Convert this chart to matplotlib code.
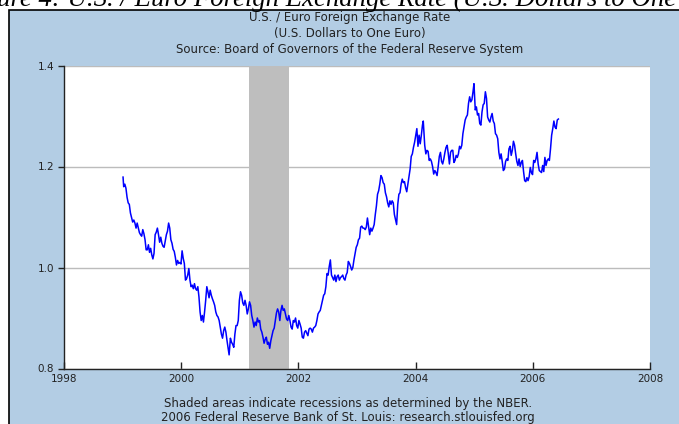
import pandas as pd
import matplotlib
matplotlib.use("Agg")
import matplotlib.pyplot as plt
from matplotlib.patches import Rectangle

# weekly readings of the daily series (U.S. dollars per euro)
dates = [
    # 1999
    "1999-01-04", "1999-01-08", "1999-01-15", "1999-01-22", "1999-01-29", "1999-02-05", "1999-02-12",
    "1999-02-19", "1999-02-26", "1999-03-05", "1999-03-12", "1999-03-19", "1999-03-26", "1999-04-02",
    "1999-04-09", "1999-04-16", "1999-04-23", "1999-04-30", "1999-05-07", "1999-05-14", "1999-05-21",
    "1999-05-28", "1999-06-04", "1999-06-11", "1999-06-18", "1999-06-25", "1999-07-02", "1999-07-09",
    "1999-07-16", "1999-07-23", "1999-07-30", "1999-08-06", "1999-08-13", "1999-08-20", "1999-08-27",
    "1999-09-03", "1999-09-10", "1999-09-17", "1999-09-24", "1999-10-01", "1999-10-08", "1999-10-15",
    "1999-10-22", "1999-10-29", "1999-11-05", "1999-11-12", "1999-11-19", "1999-11-26", "1999-12-03",
    "1999-12-10", "1999-12-17", "1999-12-24", "1999-12-31",
    # 2000
    "2000-01-07", "2000-01-14", "2000-01-21", "2000-01-28", "2000-02-04", "2000-02-11", "2000-02-18",
    "2000-02-25", "2000-03-03", "2000-03-10", "2000-03-17", "2000-03-24", "2000-03-31", "2000-04-07",
    "2000-04-14", "2000-04-21", "2000-04-28", "2000-05-05", "2000-05-12", "2000-05-19", "2000-05-26",
    "2000-06-02", "2000-06-09", "2000-06-16", "2000-06-23", "2000-06-30", "2000-07-07", "2000-07-14",
    "2000-07-21", "2000-07-28", "2000-08-04", "2000-08-11", "2000-08-18", "2000-08-25", "2000-09-01",
    "2000-09-08", "2000-09-15", "2000-09-22", "2000-09-29", "2000-10-06", "2000-10-13", "2000-10-20",
    "2000-10-26", "2000-11-03", "2000-11-10", "2000-11-17", "2000-11-24", "2000-12-01", "2000-12-08",
    "2000-12-15", "2000-12-22", "2000-12-29",
    # 2001
    "2001-01-05", "2001-01-12", "2001-01-19", "2001-01-26", "2001-02-02", "2001-02-09", "2001-02-16",
    "2001-02-23", "2001-03-02", "2001-03-09", "2001-03-16", "2001-03-23", "2001-03-30", "2001-04-06",
    "2001-04-13", "2001-04-20", "2001-04-27", "2001-05-04", "2001-05-11", "2001-05-18", "2001-05-25",
    "2001-06-01", "2001-06-08", "2001-06-15", "2001-06-22", "2001-06-29", "2001-07-06", "2001-07-13",
    "2001-07-20", "2001-07-27", "2001-08-03", "2001-08-10", "2001-08-17", "2001-08-24", "2001-08-31",
    "2001-09-07", "2001-09-14", "2001-09-21", "2001-09-28", "2001-10-05", "2001-10-12", "2001-10-19",
    "2001-10-26", "2001-11-02", "2001-11-09", "2001-11-16", "2001-11-23", "2001-11-30", "2001-12-07",
    "2001-12-14", "2001-12-21", "2001-12-28",
    # 2002
    "2002-01-04", "2002-01-11", "2002-01-18", "2002-01-25", "2002-02-01", "2002-02-08", "2002-02-15",
    "2002-02-22", "2002-03-01", "2002-03-08", "2002-03-15", "2002-03-22", "2002-03-29", "2002-04-05",
    "2002-04-12", "2002-04-19", "2002-04-26", "2002-05-03", "2002-05-10", "2002-05-17", "2002-05-24",
    "2002-05-31", "2002-06-07", "2002-06-14", "2002-06-21", "2002-06-28", "2002-07-05", "2002-07-12",
    "2002-07-19", "2002-07-26", "2002-08-02", "2002-08-09", "2002-08-16", "2002-08-23", "2002-08-30",
    "2002-09-06", "2002-09-13", "2002-09-20", "2002-09-27", "2002-10-04", "2002-10-11", "2002-10-18",
    "2002-10-25", "2002-11-01", "2002-11-08", "2002-11-15", "2002-11-22", "2002-11-29", "2002-12-06",
    "2002-12-13", "2002-12-20", "2002-12-27",
    # 2003
    "2003-01-03", "2003-01-10", "2003-01-17", "2003-01-24", "2003-01-31", "2003-02-07", "2003-02-14",
    "2003-02-21", "2003-02-28", "2003-03-07", "2003-03-14", "2003-03-21", "2003-03-28", "2003-04-04",
    "2003-04-11", "2003-04-18", "2003-04-25", "2003-05-02", "2003-05-09", "2003-05-16", "2003-05-23",
    "2003-05-30", "2003-06-06", "2003-06-13", "2003-06-20", "2003-06-27", "2003-07-04", "2003-07-11",
    "2003-07-18", "2003-07-25", "2003-08-01", "2003-08-08", "2003-08-15", "2003-08-22", "2003-08-29",
    "2003-09-05", "2003-09-12", "2003-09-19", "2003-09-26", "2003-10-03", "2003-10-10", "2003-10-17",
    "2003-10-24", "2003-10-31", "2003-11-07", "2003-11-14", "2003-11-21", "2003-11-28", "2003-12-05",
    "2003-12-12", "2003-12-19", "2003-12-26",
    # 2004
    "2004-01-02", "2004-01-09", "2004-01-16", "2004-01-23", "2004-01-30", "2004-02-06", "2004-02-13",
    "2004-02-18", "2004-02-27", "2004-03-05", "2004-03-12", "2004-03-19", "2004-03-26", "2004-04-02",
    "2004-04-09", "2004-04-16", "2004-04-23", "2004-04-30", "2004-05-07", "2004-05-14", "2004-05-21",
    "2004-05-28", "2004-06-04", "2004-06-11", "2004-06-18", "2004-06-25", "2004-07-02", "2004-07-09",
    "2004-07-16", "2004-07-23", "2004-07-30", "2004-08-06", "2004-08-13", "2004-08-20", "2004-08-27",
    "2004-09-03", "2004-09-10", "2004-09-17", "2004-09-24", "2004-10-01", "2004-10-08", "2004-10-15",
    "2004-10-22", "2004-10-29", "2004-11-05", "2004-11-12", "2004-11-19", "2004-11-26", "2004-12-03",
    "2004-12-10", "2004-12-17", "2004-12-24", "2004-12-30",
    # 2005
    "2005-01-07", "2005-01-14", "2005-01-21", "2005-01-28", "2005-02-04", "2005-02-11", "2005-02-18",
    "2005-02-25", "2005-03-04", "2005-03-11", "2005-03-18", "2005-03-25", "2005-04-01", "2005-04-08",
    "2005-04-15", "2005-04-22", "2005-04-29", "2005-05-06", "2005-05-13", "2005-05-20", "2005-05-27",
    "2005-06-03", "2005-06-10", "2005-06-17", "2005-06-24", "2005-07-01", "2005-07-08", "2005-07-15",
    "2005-07-22", "2005-07-29", "2005-08-05", "2005-08-12", "2005-08-19", "2005-08-26", "2005-09-02",
    "2005-09-09", "2005-09-16", "2005-09-23", "2005-09-30", "2005-10-07", "2005-10-14", "2005-10-21",
    "2005-10-28", "2005-11-04", "2005-11-11", "2005-11-18", "2005-11-25", "2005-12-02", "2005-12-09",
    "2005-12-16", "2005-12-23", "2005-12-30",
    # 2006
    "2006-01-06", "2006-01-13", "2006-01-20", "2006-01-27", "2006-02-03", "2006-02-10", "2006-02-17",
    "2006-02-24", "2006-03-03", "2006-03-10", "2006-03-17", "2006-03-24", "2006-03-31", "2006-04-07",
    "2006-04-14", "2006-04-21", "2006-04-28", "2006-05-05", "2006-05-12", "2006-05-19", "2006-05-26",
    "2006-06-02", "2006-06-09",
]

usd_per_euro = [
    # 1999
    1.179, 1.160, 1.165, 1.157, 1.139, 1.128, 1.125,
    1.108, 1.099, 1.090, 1.094, 1.088, 1.078, 1.088,
    1.078, 1.069, 1.065, 1.062, 1.075, 1.067, 1.055,
    1.035, 1.035, 1.045, 1.030, 1.038, 1.025, 1.017,
    1.028, 1.065, 1.070, 1.078, 1.065, 1.050, 1.060,
    1.048, 1.042, 1.040, 1.052, 1.065, 1.072, 1.088,
    1.078, 1.055, 1.048, 1.036, 1.032, 1.020, 1.005,
    1.014, 1.008, 1.010, 1.007,
    # 2000
    1.033, 1.018, 1.008, 0.975, 0.978, 0.985, 0.998,
    0.975, 0.962, 0.965, 0.958, 0.968, 0.958, 0.955,
    0.962, 0.942, 0.912, 0.895, 0.905, 0.892, 0.912,
    0.935, 0.962, 0.952, 0.940, 0.955, 0.945, 0.938,
    0.932, 0.925, 0.912, 0.905, 0.902, 0.895, 0.882,
    0.868, 0.860, 0.875, 0.882, 0.872, 0.855, 0.840,
    0.827, 0.860, 0.852, 0.848, 0.842, 0.868, 0.885,
    0.885, 0.895, 0.935,
    # 2001
    0.952, 0.945, 0.930, 0.925, 0.935, 0.925, 0.908,
    0.918, 0.932, 0.925, 0.905, 0.895, 0.882, 0.892,
    0.885, 0.900, 0.892, 0.895, 0.878, 0.872, 0.862,
    0.850, 0.858, 0.862, 0.848, 0.852, 0.840, 0.855,
    0.865, 0.875, 0.880, 0.895, 0.910, 0.918, 0.912,
    0.895, 0.915, 0.925, 0.915, 0.918, 0.908, 0.898,
    0.895, 0.905, 0.895, 0.882, 0.878, 0.895, 0.892,
    0.900, 0.885, 0.880,
    # 2002
    0.895, 0.888, 0.880, 0.862, 0.860, 0.872, 0.875,
    0.870, 0.865, 0.878, 0.880, 0.878, 0.872, 0.880,
    0.882, 0.885, 0.895, 0.908, 0.912, 0.915, 0.925,
    0.935, 0.945, 0.948, 0.962, 0.988, 0.985, 1.002,
    1.015, 0.985, 0.980, 0.975, 0.985, 0.972, 0.982,
    0.985, 0.975, 0.980, 0.982, 0.985, 0.978, 0.975,
    0.985, 0.990, 1.012, 1.008, 1.002, 0.995, 1.000,
    1.015, 1.028, 1.040,
    # 2003
    1.045, 1.055, 1.058, 1.080, 1.082, 1.078, 1.078,
    1.075, 1.080, 1.098, 1.082, 1.065, 1.078, 1.072,
    1.078, 1.085, 1.105, 1.122, 1.145, 1.152, 1.165,
    1.182, 1.178, 1.168, 1.165, 1.148, 1.140, 1.128,
    1.120, 1.132, 1.125, 1.132, 1.128, 1.105, 1.095,
    1.085, 1.125, 1.145, 1.148, 1.165, 1.175, 1.168,
    1.170, 1.158, 1.150, 1.165, 1.180, 1.195, 1.220,
    1.225, 1.238, 1.248,
    # 2004
    1.262, 1.275, 1.240, 1.262, 1.245, 1.262, 1.282,
    1.290, 1.242, 1.225, 1.232, 1.230, 1.212, 1.215,
    1.210, 1.200, 1.185, 1.192, 1.188, 1.182, 1.200,
    1.220, 1.228, 1.210, 1.205, 1.215, 1.228, 1.238,
    1.242, 1.225, 1.205, 1.228, 1.232, 1.232, 1.208,
    1.212, 1.222, 1.218, 1.225, 1.240, 1.235, 1.242,
    1.265, 1.278, 1.292, 1.298, 1.302, 1.325, 1.338,
    1.328, 1.332, 1.348, 1.364,
    # 2005
    1.312, 1.318, 1.302, 1.305, 1.285, 1.282, 1.308,
    1.322, 1.325, 1.348, 1.335, 1.298, 1.292, 1.288,
    1.298, 1.305, 1.290, 1.285, 1.265, 1.262, 1.255,
    1.228, 1.215, 1.225, 1.210, 1.192, 1.195, 1.210,
    1.215, 1.212, 1.235, 1.240, 1.222, 1.232, 1.250,
    1.242, 1.225, 1.210, 1.202, 1.215, 1.200, 1.208,
    1.212, 1.190, 1.172, 1.170, 1.178, 1.172, 1.180,
    1.198, 1.188, 1.184,
    # 2006
    1.212, 1.208, 1.215, 1.228, 1.205, 1.192, 1.190,
    1.188, 1.202, 1.190, 1.218, 1.202, 1.212, 1.215,
    1.212, 1.235, 1.262, 1.275, 1.290, 1.278, 1.275,
    1.292, 1.294,
]

recession = ("2001-03-01", "2001-11-01")
tick_years = [1998, 2000, 2002, 2004, 2006, 2008]
y_ticks = [0.8, 1.0, 1.2, 1.4]

BG_BLUE = "#b3cde4"
LINE_BLUE = "#0000ff"
W, H = 679, 424

fig = plt.figure(figsize=(W / 100, H / 100), dpi=100, facecolor="white")

# cut-off caption of the document page above the chart
fig.text(-40 / W, 1 - 6 / H, "Figure 4: U.S. / Euro Foreign Exchange Rate (U.S. Dollars to One Euro)",
         ha="left", va="baseline", fontsize=19.3, style="italic", family="Liberation Serif")

# blue panel with black left/top border
panel = Rectangle((9 / W, -0.1), 1.2, 1.1 - 10 / H, transform=fig.transFigure,
                  facecolor=BG_BLUE, edgecolor="black", linewidth=1.2, zorder=-1)
fig.patches.append(panel)

ax = fig.add_axes([64 / W, (H - 368.5) / H, (650 - 64) / W, (368.5 - 65.5) / H])
ax.set_zorder(2)
ax.set_facecolor("white")

x = pd.to_datetime(dates)
ax.plot(x, usd_per_euro, color=LINE_BLUE, linewidth=1.1, zorder=3)
ax.axvspan(pd.Timestamp(recession[0]), pd.Timestamp(recession[1]), color="#bebebe", zorder=2, lw=0)

ax.set_xlim(pd.Timestamp("1998-01-01"), pd.Timestamp("2008-01-01"))
ax.set_ylim(0.8, 1.4)
ax.set_xticks([pd.Timestamp(f"{y}-01-01") for y in tick_years])
ax.set_xticklabels([str(y) for y in tick_years])
ax.set_yticks(y_ticks)
ax.set_yticklabels([f"{v:.1f}" for v in y_ticks])

ax.grid(axis="y", color="#bcbcbc", linewidth=1.0)
ax.set_axisbelow(True)
for s in ["top", "right"]:
    ax.spines[s].set_visible(False)
for s in ["left", "bottom"]:
    ax.spines[s].set_color("#222222")
    ax.spines[s].set_linewidth(1.0)

ax.tick_params(axis="y", direction="out", length=4, width=1, pad=3, labelsize=7.5, colors="#222222")
ax.tick_params(axis="x", direction="in", length=5, width=1, pad=4, labelsize=7.5, colors="#222222")

title_lines = ["U.S. / Euro Foreign Exchange Rate", "(U.S. Dollars to One Euro)",
               "Source: Board of Governors of the Federal Reserve System"]
for i, t in enumerate(title_lines):
    fig.text(350 / W, 1 - (17.5 + 16 * i) / H, t, ha="center", va="center", fontsize=8.5, color="#222222")

footer_lines = ["Shaded areas indicate recessions as determined by the NBER.",
                "2006 Federal Reserve Bank of St. Louis: research.stlouisfed.org"]
for i, t in enumerate(footer_lines):
    fig.text(348 / W, 1 - (403 + 15 * i) / H, t, ha="center", va="center", fontsize=8.5, color="#222222")

fig.savefig("out.png", dpi=100, facecolor="white")
